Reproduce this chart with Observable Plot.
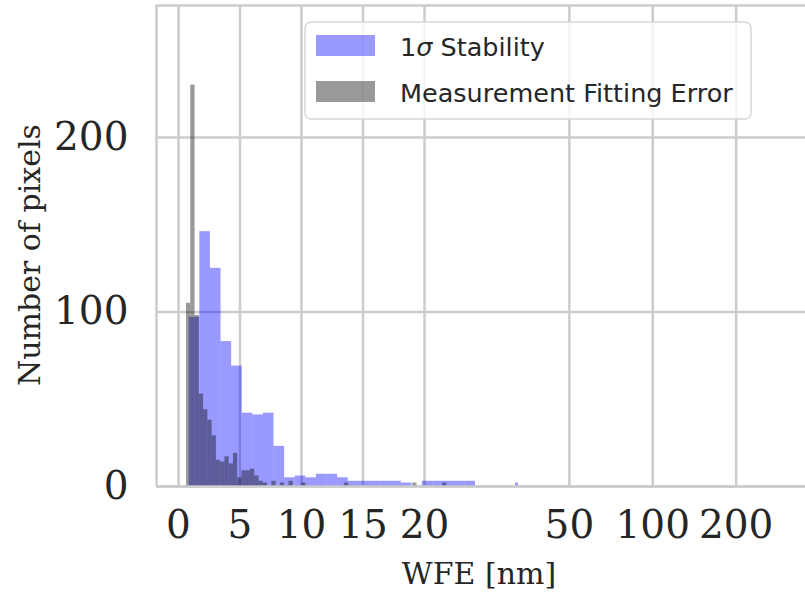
<!DOCTYPE html>
<html>
<head>
<meta charset="utf-8">
<script src="https://cdn.jsdelivr.net/npm/d3@7"></script>
<script src="https://cdn.jsdelivr.net/npm/@observablehq/plot@0.6"></script>
<style>
  html, body { margin: 0; padding: 0; background: #ffffff; }
  #chart { width: 805px; height: 592px; position: relative; }
</style>
</head>
<body>
<div id="chart"></div>
<script>
// ---- Data ----
// 1σ Stability histogram: equal-width bins in nm
const stabilityBinStart = 0.87;
const stabilityBinWidth = 0.862;
const stabilityCounts = [97, 146, 125, 83, 69, 42, 41, 42, 23, 5, 6, 5, 7, 7, 5, 3, 3, 3, 3, 3, 2, 0, 3, 3, 3, 3, 3,
  0, 0, 0, 0, 0, 0, 0, 0, 0, 2];

// Measurement Fitting Error histogram
const fitBinStart = 0.65;
const fitBinWidth = 0.347;
const fitCounts = [105, 230, 98, 53, 44, 38, 29, 15, 14, 17, 13, 19, 5, 9, 9, 10, 6, 3, 2, 0, 3, 0, 2, 0, 3, 0, 0, 2,
  0, 0, 0, 0, 0, 0, 0, 0, 0, 2,
  0, 0, 0, 0, 0, 0, 0, 0, 0, 0, 0, 0, 0, 0, 0, 2,
  0, 0, 0, 0, 0, 0, 2];

const xTickValues = [0, 5, 10, 15, 20, 50, 100, 200];
const yTickValues = [0, 100, 200];
const seriesNames = ["1\u03c3 Stability", "Measurement Fitting Error"];

// ---- Axis transform: linear up to 25 nm, logarithmic beyond ----
const LIN = 25, LOGK = 22.52;
const fx = v => v <= LIN ? v : LIN + LOGK * Math.log10(v / LIN);
const fxInv = t => t <= LIN ? t : LIN * Math.pow(10, (t - LIN) / LOGK);

function bins(start, width, counts, series) {
  return counts.map((c, i) => ({
    x0: start + width * i,
    x1: start + width * (i + 1),
    count: c,
    series
  })).filter(d => d.count > 0);
}
const stabilityBins = bins(stabilityBinStart, stabilityBinWidth, stabilityCounts, seriesNames[0]);
const fitBins = bins(fitBinStart, fitBinWidth, fitCounts, seriesNames[1]);

const W = 805, H = 592;
const mL = 156, mT = 5, mB = 106;
const gridColor = "#cccccc";
const textColor = "#262626";

const plot = Plot.plot({
  width: W,
  height: H,
  marginLeft: mL,
  marginRight: 0,
  marginTop: mT,
  marginBottom: mB,
  style: { background: "white", fontFamily: "DejaVu Serif", overflow: "visible" },
  x: { type: "linear", domain: [-1.79, 51.22], range: [mL, 808], axis: null },
  y: { type: "linear", domain: [0, 275.6], axis: null },
  marks: [
    Plot.gridX(xTickValues.map(fx), { stroke: gridColor, strokeOpacity: 1, strokeWidth: 2.5 }),
    Plot.gridY(yTickValues, { stroke: gridColor, strokeOpacity: 1, strokeWidth: 2.5 }),
    Plot.rectY(stabilityBins, { x1: d => fx(d.x0), x2: d => fx(d.x1), y: "count", fill: "#0000ff", fillOpacity: 0.4 }),
    Plot.rectY(fitBins, { x1: d => fx(d.x0), x2: d => fx(d.x1), y: "count", fill: "#000000", fillOpacity: 0.4 }),
    Plot.ruleY([0], { stroke: gridColor, strokeWidth: 2.5 }),
    Plot.ruleY([275.6], { stroke: gridColor, strokeWidth: 2.5 }),
    Plot.ruleX([-1.79], { stroke: gridColor, strokeWidth: 2.5 }),
    Plot.axisX(xTickValues.map(fx), {
      tickSize: 0, tickPadding: 24,
      tickFormat: t => String(Math.round(fxInv(t))),
      fontSize: 39, fontFamily: "DejaVu Serif", fill: textColor, label: null
    }),
    Plot.axisY(yTickValues, {
      tickSize: 0, tickPadding: 28,
      fontSize: 39, fontFamily: "DejaVu Serif", fill: textColor, label: null
    })
  ]
});
document.getElementById("chart").appendChild(plot);

// ---- axis titles and legend ----
const svg = d3.select(plot);
svg.append("text")
  .attr("x", 479).attr("y", 584)
  .attr("text-anchor", "middle")
  .attr("font-family", "DejaVu Serif").attr("font-size", 30)
  .attr("fill", textColor)
  .text("WFE [nm]");
svg.append("text")
  .attr("transform", "translate(39.5,255) rotate(-90)")
  .attr("text-anchor", "middle")
  .attr("font-family", "DejaVu Serif").attr("font-size", 30)
  .attr("fill", textColor)
  .text("Number of pixels");

const lg = svg.append("g").attr("text-anchor", "start");
lg.append("rect")
  .attr("x", 305).attr("y", 22).attr("width", 446).attr("height", 97)
  .attr("rx", 6).attr("fill", "white").attr("fill-opacity", 0.8)
  .attr("stroke", "#d6d6d6").attr("stroke-width", 1.5);
lg.append("rect").attr("x", 316).attr("y", 35).attr("width", 59).attr("height", 21)
  .attr("fill", "#0000ff").attr("fill-opacity", 0.4);
lg.append("rect").attr("x", 316).attr("y", 81).attr("width", 59).attr("height", 21)
  .attr("fill", "#000000").attr("fill-opacity", 0.4);
const t1 = lg.append("text").attr("x", 400).attr("y", 55.5).attr("text-anchor", "start")
  .attr("font-family", "DejaVu Sans").attr("font-size", 25.5).attr("fill", textColor);
t1.append("tspan").text("1");
t1.append("tspan").attr("font-style", "italic").text("\u03c3");
t1.append("tspan").text(" Stability");
lg.append("text").attr("x", 400).attr("y", 101.5).attr("text-anchor", "start")
  .attr("font-family", "DejaVu Sans").attr("font-size", 25.5).attr("fill", textColor)
  .text(seriesNames[1]);
</script>
</body>
</html>
